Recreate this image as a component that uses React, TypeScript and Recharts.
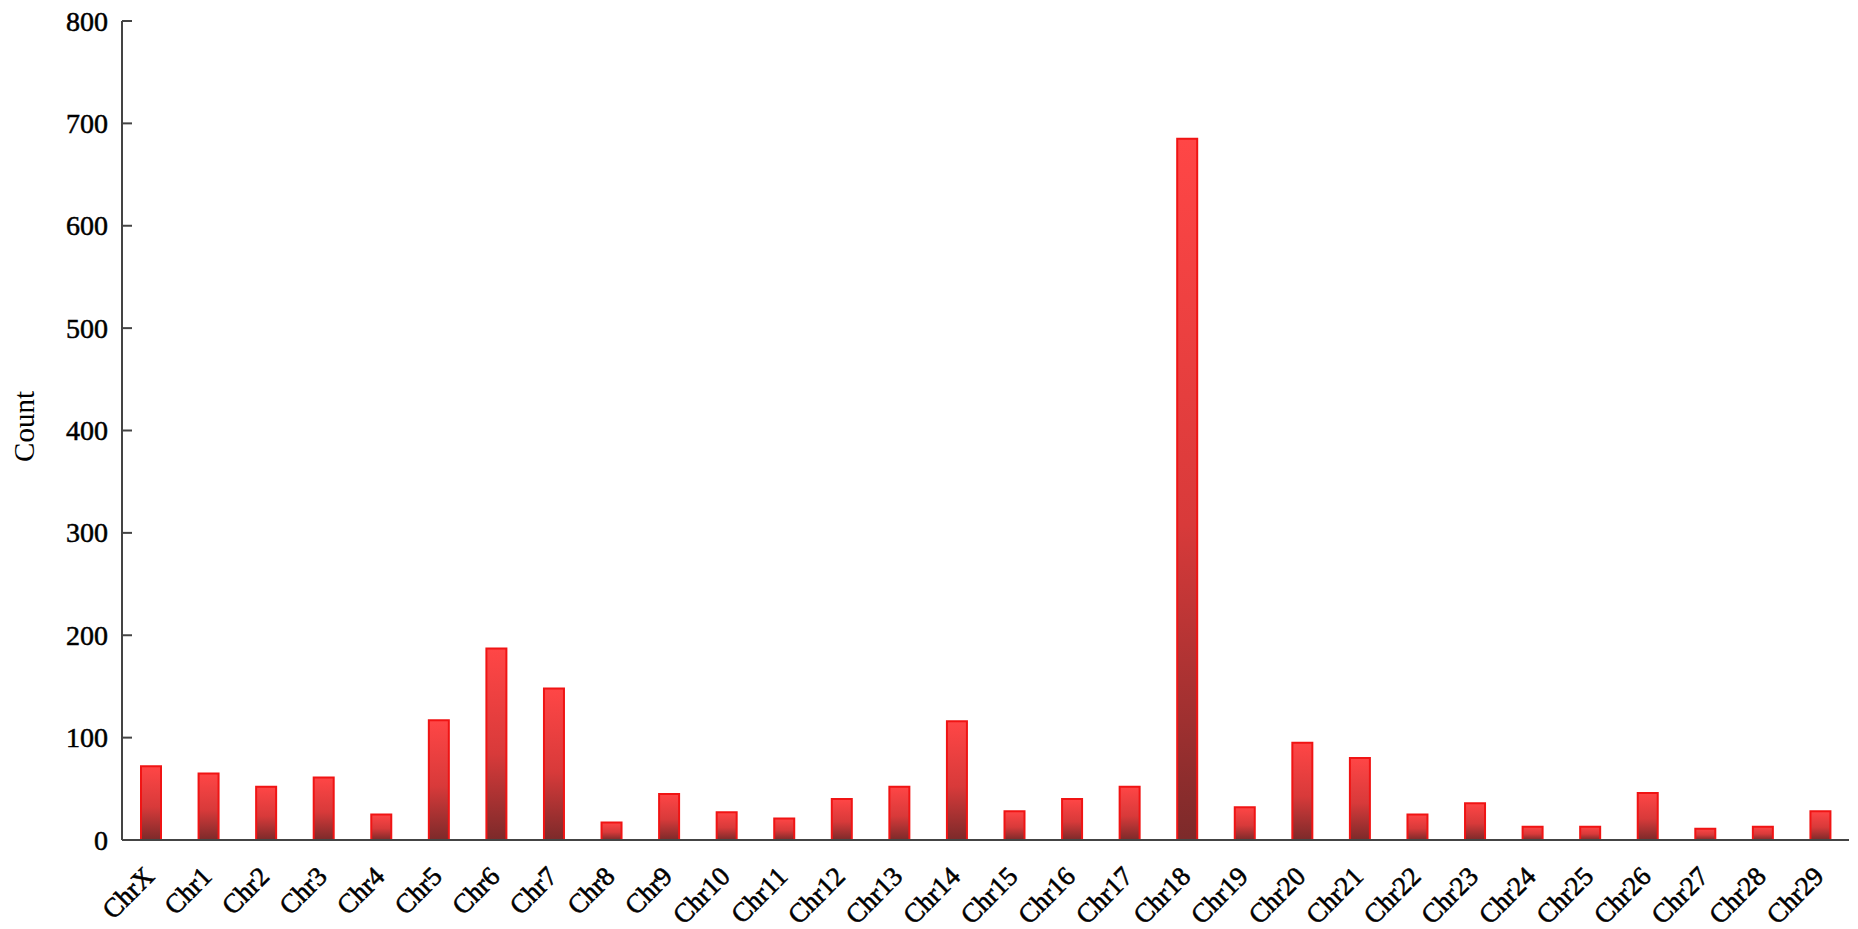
import { Bar, BarChart, XAxis, YAxis } from 'recharts'

const chromosomes = [
  'ChrX', 'Chr1', 'Chr2', 'Chr3', 'Chr4', 'Chr5', 'Chr6', 'Chr7', 'Chr8', 'Chr9',
  'Chr10', 'Chr11', 'Chr12', 'Chr13', 'Chr14', 'Chr15', 'Chr16', 'Chr17', 'Chr18', 'Chr19',
  'Chr20', 'Chr21', 'Chr22', 'Chr23', 'Chr24', 'Chr25', 'Chr26', 'Chr27', 'Chr28', 'Chr29',
]

const counts = [
  72, 65, 52, 61, 25, 117, 187, 148, 17, 45,
  27, 21, 40, 52, 116, 28, 40, 52, 685, 32,
  95, 80, 25, 36, 13, 13, 46, 11, 13, 28,
]

const yTicks = [0, 100, 200, 300, 400, 500, 600, 700, 800]

const font = '"Liberation Serif", "Times New Roman", serif'

type TickProps = { x?: number; y?: number; payload?: { value: string | number } }

function CategoryTick({ x = 0, y = 0, payload }: TickProps) {
  const tx = x + 5
  const ty = y + 30
  return (
    <text
      x={tx}
      y={ty}
      textAnchor="end"
      transform={`rotate(-45, ${tx}, ${ty})`}
      fontFamily={font}
      fontSize={27}
      fill="#000"
      stroke="#000"
      strokeWidth={0.6}
    >
      {payload?.value}
    </text>
  )
}

function CountTick({ x = 0, y = 0, payload }: TickProps) {
  return (
    <g>
      <line x1={x} y1={y} x2={x + 10} y2={y} stroke="#444" strokeWidth={2} />
      <text
        x={x - 14}
        y={y}
        textAnchor="end"
        dominantBaseline="central"
        fontFamily={font}
        fontSize={28}
        fill="#000"
        stroke="#000"
        strokeWidth={0.5}
      >
        {payload?.value}
      </text>
    </g>
  )
}

function CountLabel({ viewBox }: { viewBox?: { x: number; y: number; width: number; height: number } }) {
  if (!viewBox) return null
  const lx = viewBox.x + 24
  const ly = viewBox.y + viewBox.height / 2 - 4
  return (
    <text
      x={lx}
      y={ly}
      textAnchor="middle"
      dominantBaseline="central"
      transform={`rotate(-90, ${lx}, ${ly})`}
      fontFamily={font}
      fontSize={29}
      fill="#000"
    >
      Count
    </text>
  )
}

export default function App() {
  const data = chromosomes.map((name, i) => ({ name, count: counts[i] }))

  return (
    <div style={{ position: 'fixed', left: 0, top: 0, background: '#fff' }}>
      <BarChart width={1858} height={929} data={data} margin={{ top: 21, right: 9, left: 0, bottom: 0 }}>
        <defs>
          <linearGradient id="barRed" x1="0" y1="0" x2="0" y2="1">
            <stop offset="0%" stopColor="#ff4646" />
            <stop offset="55%" stopColor="#d83a3a" />
            <stop offset="100%" stopColor="#7c2a2a" />
          </linearGradient>
        </defs>
        <XAxis
          dataKey="name"
          height={89}
          interval={0}
          axisLine={{ stroke: '#444', strokeWidth: 2 }}
          tickLine={false}
          tick={<CategoryTick />}
        />
        <YAxis
          width={122}
          domain={[0, 800]}
          ticks={yTicks}
          interval={0}
          tickSize={0}
          tickMargin={0}
          axisLine={{ stroke: '#444', strokeWidth: 2 }}
          tickLine={false}
          tick={<CountTick />}
          label={<CountLabel />}
        />
        <Bar dataKey="count" barSize={20} fill="url(#barRed)" stroke="#f01414" strokeWidth={2} isAnimationActive={false} />
      </BarChart>
    </div>
  )
}
